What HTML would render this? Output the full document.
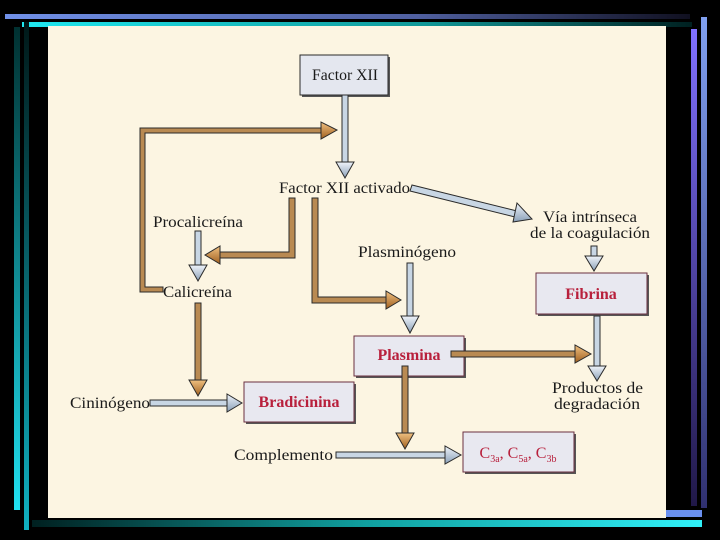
<!DOCTYPE html>
<html><head><meta charset="utf-8"><style>
html,body{margin:0;padding:0;background:#000;}
svg{display:block}
text{font-family:"Liberation Serif",serif;}
</style></head><body>
<svg width="720" height="540" viewBox="0 0 720 540" xmlns="http://www.w3.org/2000/svg">
<defs>
<linearGradient id="gTop" x1="0" x2="1"><stop offset="0" stop-color="#7090e8"/><stop offset="0.6" stop-color="#5060a0"/><stop offset="1" stop-color="#101020"/></linearGradient>
<linearGradient id="gCy" x1="0" x2="1"><stop offset="0" stop-color="#20e8f0"/><stop offset="0.6" stop-color="#109898"/><stop offset="1" stop-color="#002020"/></linearGradient>
<linearGradient id="gBot" x1="0" x2="1"><stop offset="0" stop-color="#002020"/><stop offset="0.5" stop-color="#10a0a0"/><stop offset="1" stop-color="#30f0f8"/></linearGradient>
<linearGradient id="gL" x1="0" y1="0" x2="0" y2="1"><stop offset="0" stop-color="#003030"/><stop offset="1" stop-color="#20e0f0"/></linearGradient>
<linearGradient id="gL2" x1="0" y1="0" x2="0" y2="1"><stop offset="0" stop-color="#001818"/><stop offset="1" stop-color="#10b0c0"/></linearGradient>
<linearGradient id="gR" x1="0" y1="0" x2="0" y2="1"><stop offset="0" stop-color="#8070ff"/><stop offset="1" stop-color="#201848"/></linearGradient>
<linearGradient id="gR2" x1="0" y1="0" x2="0" y2="1"><stop offset="0" stop-color="#80a0f0"/><stop offset="1" stop-color="#303070"/></linearGradient>
<linearGradient id="hb" x1="0" y1="0" x2="0" y2="1"><stop offset="0" stop-color="#f0c080"/><stop offset="1" stop-color="#a06020"/></linearGradient>
<linearGradient id="hl" x1="0" y1="0" x2="0" y2="1"><stop offset="0" stop-color="#f0f4fa"/><stop offset="1" stop-color="#8aa0b8"/></linearGradient>
</defs>
<rect x="5" y="14" width="685" height="5" fill="url(#gTop)"/>
<rect x="22" y="22" width="670" height="5" fill="url(#gCy)"/>
<rect x="14" y="27" width="6" height="483" fill="url(#gL)"/>
<rect x="24" y="22" width="5" height="508" fill="url(#gL2)"/>
<rect x="32" y="520" width="670" height="7" fill="url(#gBot)"/>
<rect x="701" y="17" width="6" height="491" fill="url(#gR2)"/>
<rect x="691" y="29" width="6" height="477" fill="url(#gR)"/>
<rect x="666" y="510" width="36" height="7" fill="#6a90f0"/>
<rect x="48" y="26" width="618" height="492" fill="#fcf5e2"/>

<g stroke="#2a2a2a" stroke-width="1">
<rect x="302" y="57" width="88" height="40" fill="#555" stroke="none"/>
<rect x="300" y="55" width="88" height="40" fill="#e4e7ef"/>
<rect x="246" y="384" width="110" height="40" fill="#555" stroke="none"/>
<rect x="244" y="382" width="110" height="40" fill="#e8e8f0" stroke="#6a3040"/>
<rect x="356" y="338" width="110" height="40" fill="#555" stroke="none"/>
<rect x="354" y="336" width="110" height="40" fill="#e8e8f0" stroke="#6a3040"/>
<rect x="538" y="275" width="111" height="41" fill="#555" stroke="none"/>
<rect x="536" y="273" width="111" height="41" fill="#e8e8f0" stroke="#6a3040"/>
<rect x="465" y="434" width="111" height="40" fill="#555" stroke="none"/>
<rect x="463" y="432" width="111" height="40" fill="#e8e8f0" stroke="#6a3040"/>

<g fill="#c8d6e4">
<rect x="342" y="95" width="6" height="68"/><polygon points="336,162 354,162 345,178" fill="url(#hl)"/>
<rect x="195" y="231" width="6" height="36"/><polygon points="189,265 207,265 198,281" fill="url(#hl)"/>
<rect x="407" y="263" width="6" height="55"/><polygon points="401,316 419,316 410,333" fill="url(#hl)"/>
<rect x="591" y="246" width="6" height="12"/><polygon points="585,256 603,256 594,271" fill="url(#hl)"/>
<rect x="594" y="316" width="6" height="52"/><polygon points="588,366 606,366 597,381" fill="url(#hl)"/>
<rect x="150" y="400" width="78" height="6"/><polygon points="227,394 227,412 242,403" fill="url(#hl)"/>
<rect x="336" y="452" width="110" height="6"/><polygon points="445,446 445,464 461,455" fill="url(#hl)"/>
<polygon points="412,185 517,211 515,217 410,191"/><polygon points="517,203 513,222 532,219" fill="url(#hl)"/>
</g>
<g fill="#b98a52">
<polygon points="163,292 140,292 140,128 322,128 322,133 145,133 145,287 163,287"/><polygon points="321,122 321,139 337,130" fill="url(#hb)"/>
<polygon points="289,198 295,198 295,258 219,258 219,252 289,252"/><polygon points="220,246 220,264 205,255" fill="url(#hb)"/>
<polygon points="312,198 318,198 318,297 387,297 387,303 312,303"/><polygon points="386,291 386,309 401,300" fill="url(#hb)"/>
<rect x="195" y="303" width="6" height="78"/><polygon points="189,380 207,380 198,396" fill="url(#hb)"/>
<rect x="402" y="366" width="6" height="68"/><polygon points="396,433 414,433 405,449" fill="url(#hb)"/>
<rect x="451" y="351" width="125" height="6"/><polygon points="575,345 575,363 591,354" fill="url(#hb)"/>
</g>
</g>

<g font-size="16" fill="#1a1a1a">
<text x="312" y="80" textLength="66" lengthAdjust="spacingAndGlyphs">Factor XII</text>
<text x="279" y="193" textLength="131" lengthAdjust="spacingAndGlyphs">Factor XII activado</text>
<text x="153" y="227" textLength="90" lengthAdjust="spacingAndGlyphs">Procalicreína</text>
<text x="163" y="297" textLength="69" lengthAdjust="spacingAndGlyphs">Calicreína</text>
<text x="358" y="257" textLength="98" lengthAdjust="spacingAndGlyphs">Plasminógeno</text>
<text x="543" y="222" textLength="94" lengthAdjust="spacingAndGlyphs">Vía intrínseca</text>
<text x="530" y="238" textLength="120" lengthAdjust="spacingAndGlyphs">de la coagulación</text>
<text x="552" y="393" textLength="91" lengthAdjust="spacingAndGlyphs">Productos de</text>
<text x="554" y="409" textLength="86" lengthAdjust="spacingAndGlyphs">degradación</text>
<text x="70" y="408" textLength="80" lengthAdjust="spacingAndGlyphs">Cininógeno</text>
<text x="234" y="460" textLength="99" lengthAdjust="spacingAndGlyphs">Complemento</text>
</g>
<g font-size="16" font-weight="bold" fill="#b8203c" text-anchor="middle">
<text x="299" y="407">Bradicinina</text>
<text x="409" y="360">Plasmina</text>
<text x="591" y="299">Fibrina</text>
<text x="518" y="458" font-weight="normal">C<tspan font-size="10" dy="4">3a</tspan><tspan dy="-4">, C</tspan><tspan font-size="10" dy="4">5a</tspan><tspan dy="-4">, C</tspan><tspan font-size="10" dy="4">3b</tspan></text>
</g>
</svg>
</body></html>
